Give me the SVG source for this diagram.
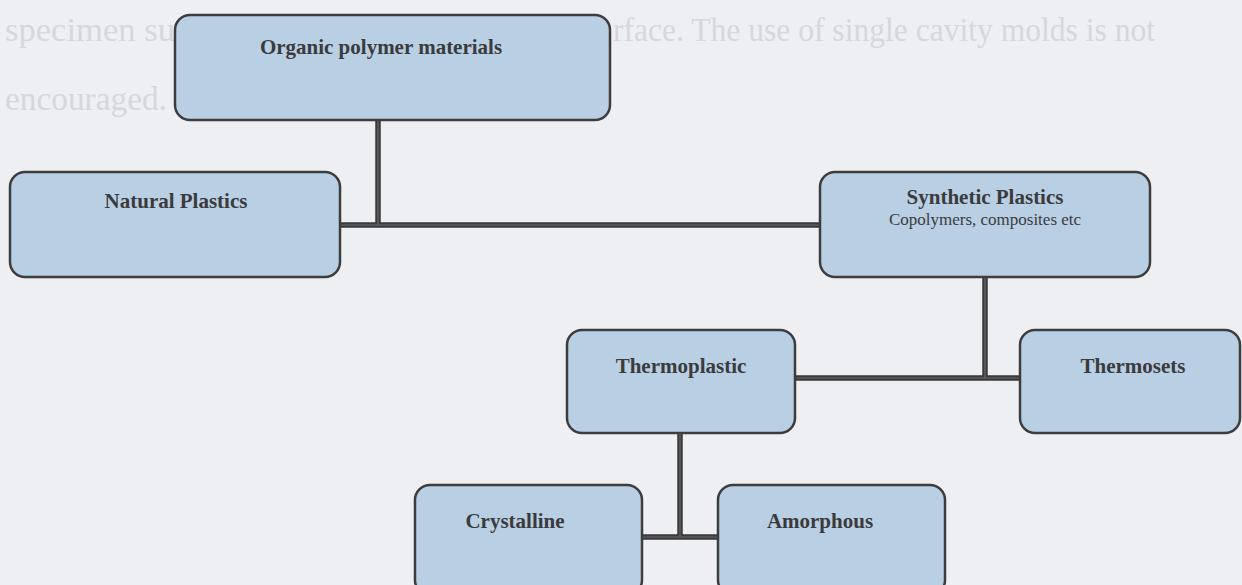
<svg xmlns="http://www.w3.org/2000/svg" width="1242" height="585" viewBox="0 0 1242 585">
<style>
.bg{fill:#eeeff2}
.page{font-family:"Liberation Serif",serif;font-size:34px;fill:#d6d7db}
.box{fill:#b9cfe3;stroke:#3d3d3f;stroke-width:2.5}
.t{font-family:"Liberation Serif",serif;font-weight:bold;font-size:21px;fill:#3b3b3d;text-anchor:middle}
.s{font-family:"Liberation Serif",serif;font-size:17px;fill:#3b3b3d;text-anchor:middle}
.c{fill:none;stroke:#3a3a3c;stroke-width:5.5}
.ci{fill:none;stroke:#6a6a6c;stroke-width:1.2}
</style>
<rect class="bg" x="0" y="0" width="1242" height="585"/>
<text class="page" x="5" y="41" textLength="170" lengthAdjust="spacingAndGlyphs">specimen su</text>
<text class="page" x="613" y="41" textLength="542" lengthAdjust="spacingAndGlyphs">rface.  The use of single cavity molds is not</text>
<text class="page" x="5" y="110" textLength="162" lengthAdjust="spacingAndGlyphs">encouraged.</text>
<g id="connectors">
<path class="c" d="M378 120 V225 M340 225 H820 M985 277 V378 M795 378 H1020 M680 433 V537 M642 537 H718"/>
<path class="ci" d="M378 120 V225 M340 225 H820 M985 277 V378 M795 378 H1020 M680 433 V537 M642 537 H718"/>
</g>
<g id="organic">
<rect class="box" x="175" y="15" width="435" height="105" rx="15"/>
<text class="t" x="381" y="54">Organic polymer materials</text>
</g>
<g id="natural">
<rect class="box" x="10" y="172" width="330" height="105" rx="15"/>
<text class="t" x="176" y="208">Natural Plastics</text>
</g>
<g id="synthetic">
<rect class="box" x="820" y="172" width="330" height="105" rx="15"/>
<text class="t" x="985" y="204">Synthetic Plastics</text>
<text class="s" x="985" y="225">Copolymers, composites etc</text>
</g>
<g id="thermoplastic">
<rect class="box" x="567" y="330" width="228" height="103" rx="15"/>
<text class="t" x="681" y="373">Thermoplastic</text>
</g>
<g id="thermosets">
<rect class="box" x="1020" y="330" width="220" height="103" rx="15"/>
<text class="t" x="1133" y="373">Thermosets</text>
</g>
<g id="crystalline">
<rect class="box" x="415" y="485" width="227" height="110" rx="15"/>
<text class="t" x="515" y="528">Crystalline</text>
</g>
<g id="amorphous">
<rect class="box" x="718" y="485" width="227" height="110" rx="15"/>
<text class="t" x="820" y="528">Amorphous</text>
</g>
</svg>
